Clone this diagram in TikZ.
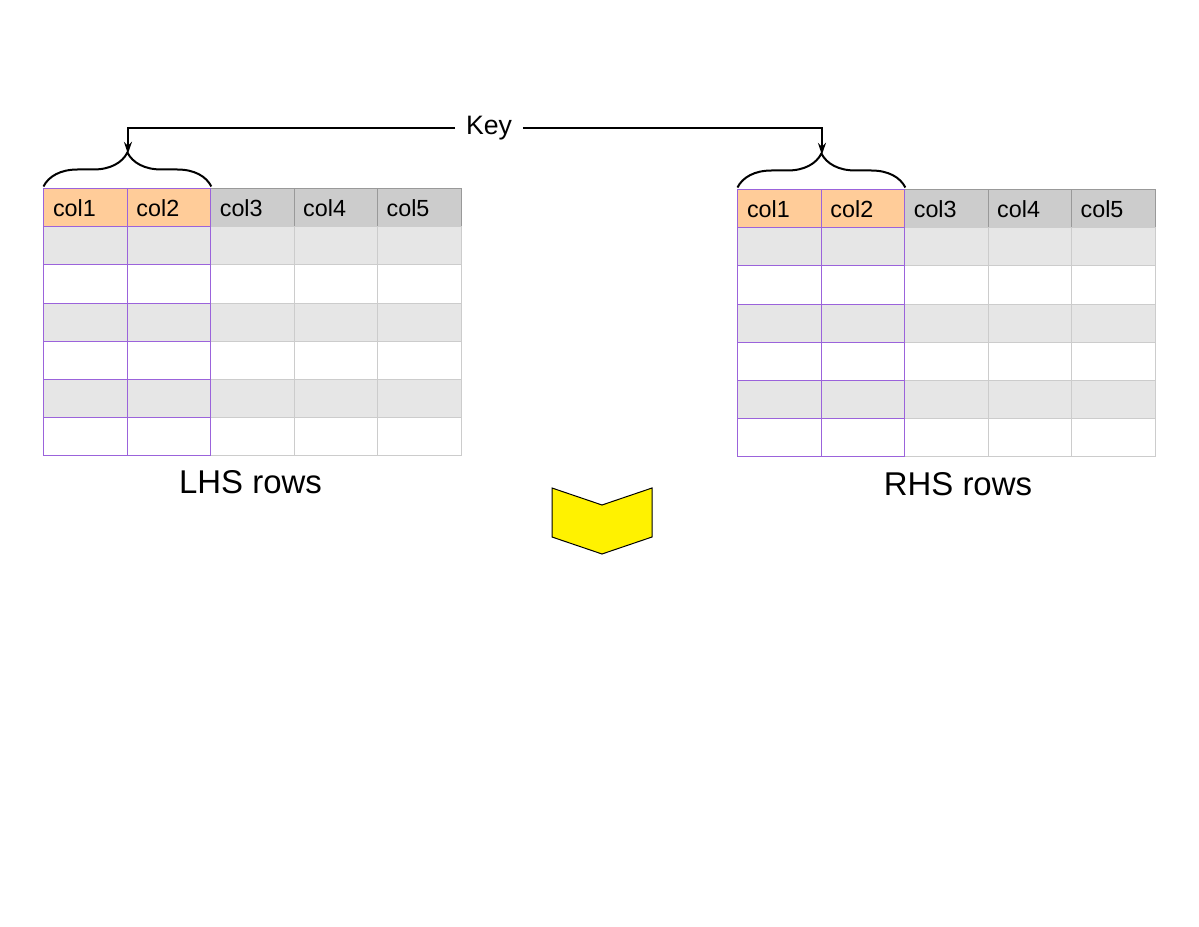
\documentclass[tikz,border=0pt]{standalone}
\usepackage{fontspec}
\setmainfont{Liberation Sans}
\usetikzlibrary{positioning, arrows.meta, decorations.pathreplacing}

\definecolor{keyfill}{HTML}{FFCC99}
\definecolor{headfill}{HTML}{CCCCCC}
\definecolor{rowfill}{HTML}{E6E6E6}
\definecolor{keyborder}{HTML}{9B63DB}
\definecolor{cellborder}{HTML}{CCCCCC}
\definecolor{headborder}{HTML}{999999}

\tikzset{
  cellbox/.style={minimum width=62.55pt, minimum height=28.5pt, text width=49pt,
    inner xsep=6.8pt, inner ysep=0pt, align=left, line width=0.75pt,
    font=\fontsize{17.5}{20}\selectfont},
  headcell/.style={cellbox, fill=headfill, draw=headborder},
  keyhead/.style={cellbox, fill=keyfill, draw=keyborder},
  datacell/.style={cellbox, draw=cellborder},
  keycell/.style={cellbox, draw=keyborder},
  keybrace/.style={decorate, decoration={brace, amplitude=25.5pt, raise=1.5pt}, line width=1.5pt},
  keyarrow/.style={-{Stealth[length=9pt, width=6pt]}, line width=1.5pt},
  caption/.style={inner sep=0pt, font=\fontsize{24.7}{28}\selectfont},
}

% one table: prefix, left x, top y
\newcommand{\drawtable}[3]{%
  \foreach \c/\t in {3/col3,4/col4,5/col5} {
    \node[headcell] (#1-\c-0) at ({#2+(\c-0.5)*83.4}, {#3+19}) {\t};
    \foreach \r/\f in {1/rowfill,2/white,3/rowfill,4/white,5/rowfill,6/white}
      \node[datacell, fill=\f] (#1-\c-\r) at ({#2+(\c-0.5)*83.4}, {#3+19+\r*38}) {};
  }
  \foreach \c/\t in {1/col1,2/col2} {
    \node[keyhead] (#1-\c-0) at ({#2+(\c-0.5)*83.4}, {#3+19}) {\t};
    \foreach \r/\f in {1/rowfill,2/white,3/rowfill,4/white,5/rowfill,6/white}
      \node[keycell, fill=\f] (#1-\c-\r) at ({#2+(\c-0.5)*83.4}, {#3+19+\r*38}) {};
  }
}

\begin{document}
\begin{tikzpicture}[x=0.75pt, y=-0.75pt]
  \useasboundingbox (0,0) rectangle (1199,927);

  \drawtable{L}{44}{189}
  \drawtable{R}{738}{190}

  % key columns
  \draw[keybrace] (L-1-0.north west) -- (L-2-0.north east);
  \draw[keybrace] (R-1-0.north west) -- (R-2-0.north east);
  \coordinate[above=26pt of L-1-0.north east] (ltip);
  \coordinate[above=26pt of R-1-0.north east] (rtip);

  \node[inner xsep=8pt, font=\fontsize{20}{22}\selectfont] (key) at (489,128) {Key};
  \draw[keyarrow] (key.west) -| (ltip);
  \draw[keyarrow] (key.east) -| (rtip);

  \node[caption, below=11pt of L-3-6, xshift=-1.5pt] (lhs) {LHS rows};
  \node[caption, below=11.6pt of R-3-6, xshift=8.6pt] (rhs) {RHS rows};

  % join arrow
  \draw[fill=yellow, line width=0.75pt] (552,488) -- (602,505) -- (652,488)
    -- (652,537) -- (602,554) -- (552,537) -- cycle;
\end{tikzpicture}
\end{document}
